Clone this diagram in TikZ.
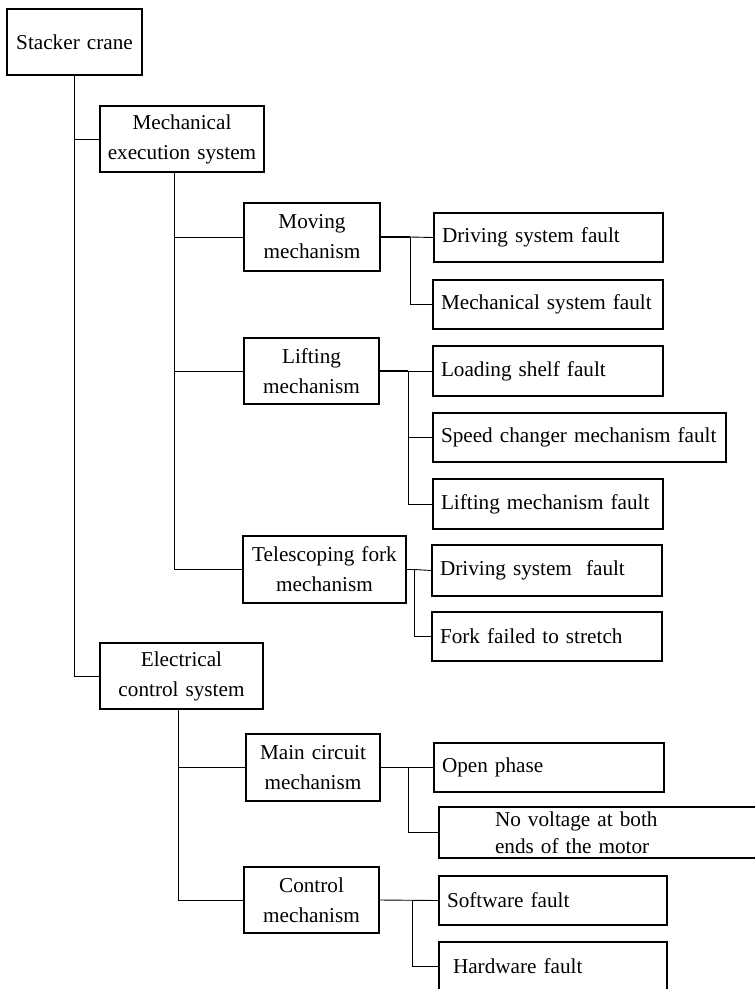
\documentclass[tikz,border=0pt]{standalone}
\usepackage{fontspec}
\setmainfont{Liberation Serif}
\begin{document}
\begin{tikzpicture}[x=1pt,y=-1pt,
  every node/.style={font=\fontsize{21.2}{30}\selectfont},
  % centred boxes of the upper levels: #1 width, #2 height
  catbox/.style 2 args={draw, line width=1.1pt, inner xsep=3pt, inner ysep=0pt,
    text width=#1pt-6pt, minimum height=#2pt, align=center},
  % fault boxes with left-set text
  faultbox/.style 2 args={draw, line width=1.1pt, inner xsep=8pt, inner ysep=0pt,
    text width=#1pt-16pt, minimum height=#2pt, align=left},
  link/.style={line width=0.9pt},
  stub/.style={line width=1.6pt}]

\useasboundingbox (0,0) rectangle (755,989);
\clip (0,0) rectangle (755,989);

% tree levels
\node[catbox={135}{66}] (crane) at (74.5,42) {\mbox{Stacker crane}};
\node[catbox={164}{66}] (mes) at (182,139) {Mechanical\\\mbox{execution system}};
\node[catbox={163}{66}] (ecs) at (181.5,676) {Electrical\\\mbox{control system}};

\node[catbox={136}{68}] (moving) at (312,237) {Moving\\mechanism};
\node[catbox={135}{66}] (lifting) at (311.5,371) {Lifting\\mechanism};
\node[catbox={163}{67}] (fork) at (324.5,569.5) {\mbox{Telescoping fork}\\mechanism};
\node[catbox={134}{67}] (circuit) at (313,767.5) {\mbox{Main circuit}\\mechanism};
\node[catbox={135}{66}] (control) at (311.5,900) {Control\\mechanism};

% fault leaves
\node[faultbox={229}{49}] (drive1) at (548.5,237.5) {\mbox{Driving system fault}};
\node[faultbox={230}{49}] (mechf) at (548,304.5) {\mbox{Mechanical system fault}};
\node[faultbox={230}{50}] (shelf) at (548,371) {\mbox{Loading shelf fault}};
\node[faultbox={293}{49}] (speed) at (579.5,437.5) {\mbox{Speed changer mechanism fault}};
\node[faultbox={230}{50}] (liftf) at (548,504) {\mbox{Lifting mechanism fault}};
\node[faultbox={230}{51}] (drive2) at (547,570.5) {\mbox{Driving system\ \ fault}};
\node[faultbox={230}{49}] (stretch) at (547,636.5) {\mbox{Fork failed to stretch}};
\node[faultbox={230}{49}] (phase) at (549,767.5) {Open phase};
\node[faultbox={322}{51}, font=\fontsize{21.2}{27}\selectfont] (volt) at (600,832.5)
  {\hspace*{48pt}\mbox{No voltage at both}\\\hspace*{48pt}\mbox{ends of the motor}};
\node[faultbox={228}{49}] (soft) at (553,900.5) {\mbox{Software fault}};
\node[faultbox={228}{48}] (hard) at (553,966) {\hspace*{6pt}\mbox{Hardware fault}};

% vertical rails of the branches
\coordinate (railA) at (74,0);
\coordinate (railB) at (174,0);
\coordinate (railC) at (178,0);
\coordinate (jMov) at (410,0);
\coordinate (jLift) at (408,0);
\coordinate (jFork) at (414,0);
\coordinate (jCirc) at (408,0);
\coordinate (jCtrl) at (412,0);

% top level
\draw[link] (crane.south -| railA) |- (mes.west);
\draw[link] (crane.south -| railA) |- (ecs.west);

% mechanical execution system
\draw[link] (mes.south -| railB) |- (moving.west);
\draw[link] (mes.south -| railB) |- (lifting.west);
\draw[link] (mes.south -| railB) |- (fork.west);

% electrical control system
\draw[link] (ecs.south -| railC) |- (circuit.west);
\draw[link] (ecs.south -| railC) |- (control.west);

% moving mechanism faults
\draw[stub] (moving.east) -- (moving.east -| jMov);
\draw[link] (moving.east -| jMov) -- (drive1.west);
\draw[link] (moving.east -| jMov) |- (mechf.west);

% lifting mechanism faults
\draw[stub] (lifting.east) -- (lifting.east -| jLift);
\draw[link] (lifting.east -| jLift) -- (shelf.west);
\draw[link] (lifting.east -| jLift) |- (speed.west);
\draw[link] (lifting.east -| jLift) |- (liftf.west);

% telescoping fork faults
\draw[stub] (fork.east) -- (fork.east -| jFork);
\draw[link] (fork.east -| jFork) -- (drive2.west);
\draw[link] (fork.east -| jFork) |- (stretch.west);

% main circuit faults
\draw[link] (circuit.east) -- (phase.west);
\draw[link] (circuit.east -| jCirc) |- (volt.west);

% control mechanism faults
\draw[link] (control.east) -- (soft.west);
\draw[link] (control.east -| jCtrl) |- (hard.west);
\end{tikzpicture}
\end{document}
